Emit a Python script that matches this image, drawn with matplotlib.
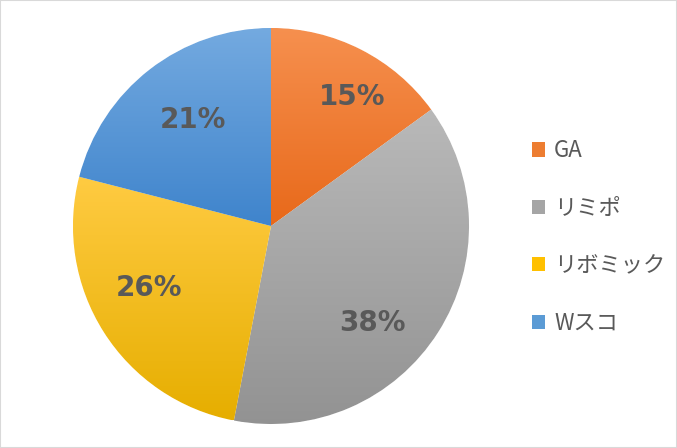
import matplotlib
matplotlib.use("Agg")
import matplotlib.pyplot as plt
import numpy as np
from matplotlib.colors import LinearSegmentedColormap
from matplotlib.patches import Rectangle, Patch

plt.rcParams['font.family'] = ['Noto Sans CJK JP', 'DejaVu Sans']

labels = ["GA", "リミポ", "リボミック", "Wスコ"]
values = [15, 38, 26, 21]
pct_labels = ["15%", "38%", "26%", "21%"]
top_colors = ["#F6904F", "#B9B9B9", "#FFCB42", "#74AAE0"]
bottom_colors = ["#E8691A", "#929292", "#E6AE00", "#3F84CC"]
base_colors = ["#ED7D31", "#A5A5A5", "#FFC000", "#5B9BD5"]

W, H = 677, 448
fig = plt.figure(figsize=(W / 100, H / 100), dpi=100)
fig.patches.append(Rectangle((0, 0), 1, 1, transform=fig.transFigure,
                             fill=False, edgecolor="#D9D9D9", linewidth=1.5))

cx, cy, r = 271, H - 226, 198
ax = fig.add_axes([(cx - r) / W, (cy - r) / H, 2 * r / W, 2 * r / H])

wedges, _ = ax.pie(values, startangle=90, counterclock=False,
                   colors=base_colors, radius=1,
                   wedgeprops=dict(edgecolor="white", linewidth=0.8))
ax.set_aspect('equal')
ax.axis('off')

grad = np.linspace(1, 0, 256).reshape(-1, 1)
for w, tc, bc in zip(wedges, top_colors, bottom_colors):
    v = w.get_path().vertices
    x0, x1 = v[:, 0].min(), v[:, 0].max()
    y0, y1 = v[:, 1].min(), v[:, 1].max()
    cmap = LinearSegmentedColormap.from_list("g", [bc, tc])
    im = ax.imshow(grad, cmap=cmap, vmin=0, vmax=1, extent=[x0, x1, y0, y1],
                   aspect='auto', origin='upper', zorder=w.get_zorder() + 0.1,
                   interpolation='bilinear')
    im.set_clip_path(w)
ax.set_xlim(-1.0, 1.0)
ax.set_ylim(-1.0, 1.0)

# label placement (angle deg, radius fraction)
label_pos = [(57.9, 0.77), (-43.8, 0.71), (206.8, 0.69), (126.3, 0.665)]
for txt, (ang, rf) in zip(pct_labels, label_pos):
    a = np.deg2rad(ang)
    ax.text(rf * np.cos(a), rf * np.sin(a), txt, ha='center', va='center',
            fontsize=20, fontweight='bold', color="#595959",
            family=['DejaVu Sans'], zorder=10)

handles = [Patch(facecolor=c, edgecolor='none') for c in base_colors]
leg = fig.legend(handles, labels, loc='center left',
                 bbox_to_anchor=(512 / W, (H - 237) / H), frameon=False,
                 fontsize=16, labelcolor="#595959", handlelength=0.6,
                 handleheight=0.6, handletextpad=0.4, labelspacing=1.55)

fig.savefig("out.png", dpi=100)
